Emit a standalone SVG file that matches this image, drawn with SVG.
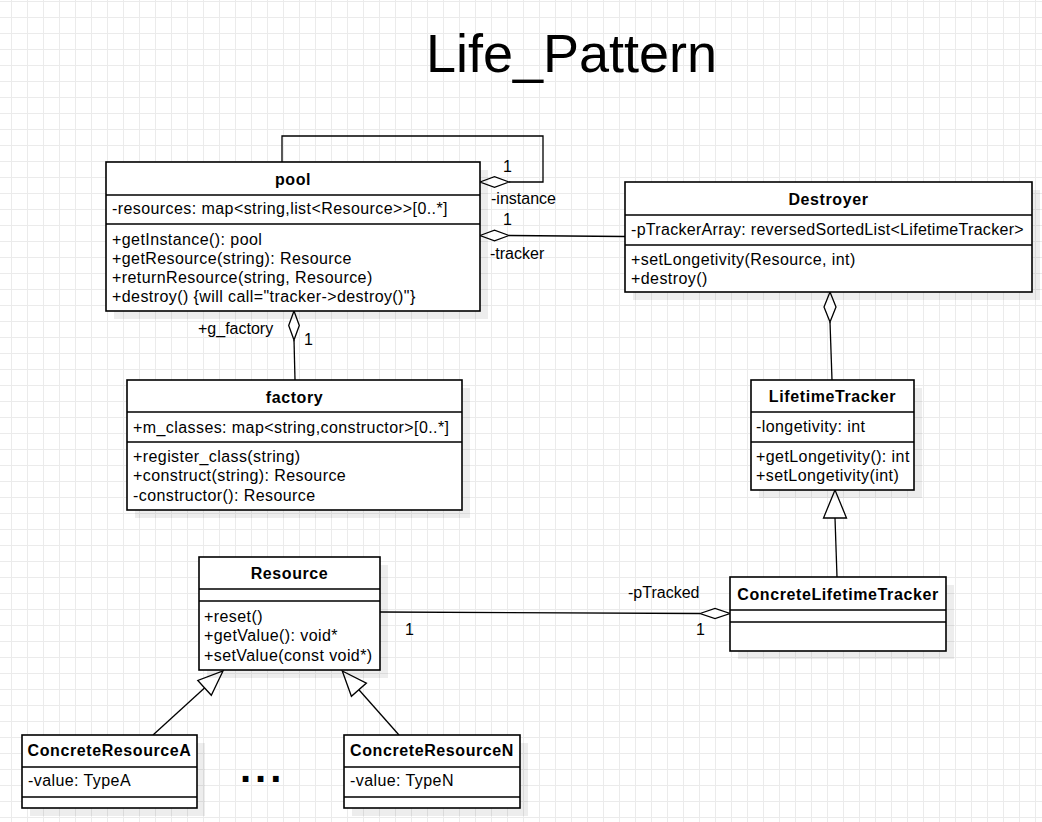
<svg xmlns="http://www.w3.org/2000/svg" width="1042" height="822" viewBox="0 0 1042 822">
<style>
.box{fill:#fff;stroke:#000;stroke-width:1.6}
.sh{fill:#000;fill-opacity:0.07}
.div{stroke:#000;stroke-width:1.4;fill:none}
.hd{font-family:"Liberation Sans",Arial,sans-serif;font-size:16px;font-weight:bold;text-anchor:middle;letter-spacing:0.6px;fill:#000}
.m{font-family:"Liberation Sans",Arial,sans-serif;font-size:16px;letter-spacing:0.42px;fill:#000}
.lbl{font-family:"Liberation Sans",Arial,sans-serif;font-size:16px;fill:#000}
.ln{fill:none;stroke:#000;stroke-width:1.3}
.dia{fill:#fff;stroke:#000;stroke-width:1.3}
.tri{fill:#fff;stroke:#000;stroke-width:1.3}
</style>
<defs>
<pattern id="grid" patternUnits="userSpaceOnUse" x="11" y="1" width="16" height="16">
<path d="M0 0.5H16M0.5 0V16" stroke="#ebebeb" stroke-width="1" fill="none"/>
</pattern>
</defs>
<rect x="0" y="0" width="1042" height="822" fill="#fff"/>
<rect x="0" y="0" width="1042" height="822" fill="url(#grid)"/>
<text x="571.5" y="72" font-family="'Liberation Sans',Arial,sans-serif" font-size="54" text-anchor="middle" fill="#000">Life_Pattern</text>

<g id="connectors">
<path class="ln" d="M282 162V136H543V182H509"/>
<polygon class="dia" points="480,182 494.5,176.7 509,182 494.5,187.3"/>
<path class="ln" d="M509 235.5L625 236.5"/>
<polygon class="dia" points="480,235.5 494.5,230.2 509,235.5 494.5,240.8"/>
<path class="ln" d="M294 340L295 380"/>
<polygon class="dia" points="294,311 299.3,325.5 294,340 288.7,325.5"/>
<path class="ln" d="M830 322L832 380"/>
<polygon class="dia" points="830,292 836,307 830,322 824,307"/>
<path class="ln" d="M835 518L837 577"/>
<polygon class="tri" points="835,490 846.5,518 823.5,518"/>
<path class="ln" d="M380 612L700 613.5"/>
<polygon class="dia" points="700,613.5 715,608.5 730,613.5 715,618.5"/>
<path class="ln" d="M204.5 687.9L153 735"/>
<polygon class="tri" points="223,671 211.3,695.3 197.8,680.5"/>
<path class="ln" d="M358.9 689.7L399 735"/>
<polygon class="tri" points="342.3,671 366.4,683.1 351.4,696.3"/>
<text class="lbl" x="503" y="172">1</text>
<text class="lbl" x="491" y="204">-instance</text>
<text class="lbl" x="503" y="225">1</text>
<text class="lbl" x="490" y="259">-tracker</text>
<text class="lbl" x="198" y="334">+g_factory</text>
<text class="lbl" x="304" y="345">1</text>
<text class="lbl" x="628" y="598">-pTracked</text>
<text class="lbl" x="405" y="635">1</text>
<text class="lbl" x="696" y="635">1</text>
</g>

<g id="pool">
<rect class="sh" x="114" y="170" width="374" height="149"/>
<rect class="box" x="106" y="162" width="374" height="149"/>
<path class="div" d="M106 195H480M106 224H480"/>
<text class="hd" x="293" y="185">pool</text>
<text class="m" x="112" y="214">-resources: map&lt;string,list&lt;Resource&gt;&gt;[0..*]</text>
<text class="m" x="112" y="245">+getInstance(): pool</text>
<text class="m" x="112" y="264">+getResource(string): Resource</text>
<text class="m" x="112" y="283">+returnResource(string, Resource)</text>
<text class="m" x="112" y="302">+destroy() {will call="tracker-&gt;destroy()"}</text>
</g>

<g id="destroyer">
<rect class="sh" x="633" y="190" width="407" height="110"/>
<rect class="box" x="625" y="182" width="407" height="110"/>
<path class="div" d="M625 215H1032M625 245H1032"/>
<text class="hd" x="828.5" y="205">Destroyer</text>
<text class="m" x="631" y="235" style="letter-spacing:0.3px">-pTrackerArray: reversedSortedList&lt;LifetimeTracker&gt;</text>
<text class="m" x="631" y="265">+setLongetivity(Resource, int)</text>
<text class="m" x="631" y="284">+destroy()</text>
</g>

<g id="factory">
<rect class="sh" x="135" y="388" width="335" height="130"/>
<rect class="box" x="127" y="380" width="335" height="130"/>
<path class="div" d="M127 412H462M127 442H462"/>
<text class="hd" x="294.5" y="402.5">factory</text>
<text class="m" x="133" y="432.5">+m_classes: map&lt;string,constructor&gt;[0..*]</text>
<text class="m" x="133" y="461.5">+register_class(string)</text>
<text class="m" x="133" y="481">+construct(string): Resource</text>
<text class="m" x="133" y="500.5">-constructor(): Resource</text>
</g>

<g id="lifetimetracker">
<rect class="sh" x="759" y="388" width="163" height="110"/>
<rect class="box" x="751" y="380" width="163" height="110"/>
<path class="div" d="M751 412H914M751 442H914"/>
<text class="hd" x="832.5" y="402">LifetimeTracker</text>
<text class="m" x="756" y="432">-longetivity: int</text>
<text class="m" x="756" y="461.5">+getLongetivity(): int</text>
<text class="m" x="756" y="481">+setLongetivity(int)</text>
</g>

<g id="concretelifetimetracker">
<rect class="sh" x="738" y="585" width="216" height="74"/>
<rect class="box" x="730" y="577" width="216" height="74"/>
<path class="div" d="M730 610H946M730 622H946"/>
<text class="hd" x="838" y="599.5">ConcreteLifetimeTracker</text>
</g>

<g id="resource">
<rect class="sh" x="207" y="565" width="181" height="113"/>
<rect class="box" x="199" y="557" width="181" height="113"/>
<path class="div" d="M199 589H380M199 601H380"/>
<text class="hd" x="289.5" y="578.5">Resource</text>
<text class="m" x="204" y="621.5">+reset()</text>
<text class="m" x="204" y="641">+getValue(): void*</text>
<text class="m" x="204" y="660.5">+setValue(const void*)</text>
</g>

<g id="concreteresourcea">
<rect class="sh" x="30" y="743" width="175" height="73"/>
<rect class="box" x="22" y="735" width="175" height="73"/>
<path class="div" d="M22 767H197M22 797H197"/>
<text class="hd" x="109.5" y="756">ConcreteResourceA</text>
<text class="m" x="28" y="786">-value: TypeA</text>
</g>

<g id="concreteresourcen">
<rect class="sh" x="352" y="743" width="176" height="73"/>
<rect class="box" x="344" y="735" width="176" height="73"/>
<path class="div" d="M344 767H520M344 797H520"/>
<text class="hd" x="432" y="756">ConcreteResourceN</text>
<text class="m" x="350" y="786">-value: TypeN</text>
</g>

<g id="ellipsis">
<text x="240" y="782" font-family="'Liberation Sans',Arial,sans-serif" font-size="40" font-weight="bold" letter-spacing="4" fill="#000">...</text>
</g>
</svg>
